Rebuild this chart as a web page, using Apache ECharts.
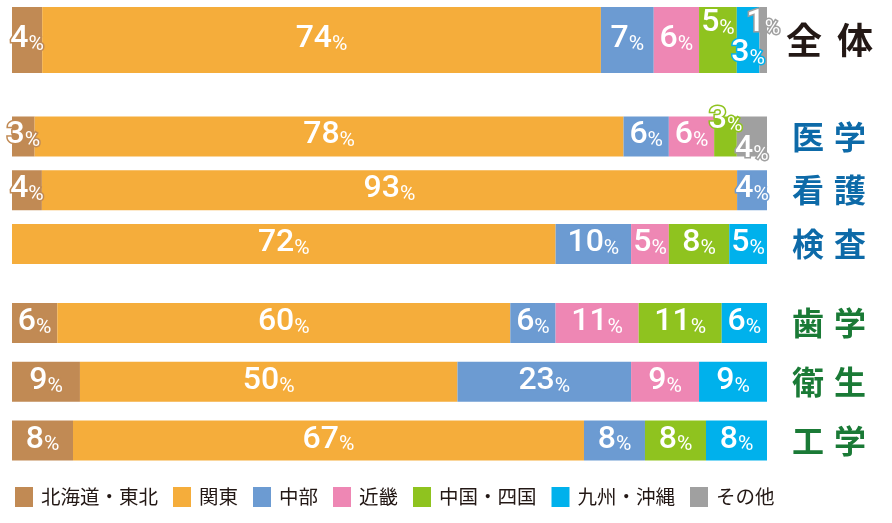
<!DOCTYPE html>
<html>
<head>
<meta charset="utf-8">
<script src="https://cdn.jsdelivr.net/npm/echarts@6/dist/echarts.min.js"></script>
<style>
html, body { margin: 0; padding: 0; background: #fff; }
#main { width: 892px; height: 523px; }
</style>
</head>
<body>
<div id="main"></div>
<script>
// regions (legend order)
var regions = ['北海道・東北', '関東', '中部', '近畿', '中国・四国', '九州・沖縄', 'その他'];
// rows, top to bottom
var rows = ['全体', '医学', '看護', '検査', '歯学', '衛生', '工学'];
// percent per region, one entry per row
var hokkaidoTohoku = [4, 3, 4, 0, 6, 9, 8];
var kanto          = [74, 78, 93, 72, 60, 50, 67];
var chubu          = [7, 6, 4, 10, 6, 23, 8];
var kinki          = [6, 6, 0, 5, 11, 9, 0];
var chugokuShikoku = [5, 3, 0, 8, 11, 0, 8];
var kyushuOkinawa  = [3, 0, 0, 5, 6, 9, 8];
var others         = [1, 4, 0, 0, 0, 0, 0];

var values = [hokkaidoTohoku, kanto, chubu, kinki, chugokuShikoku, kyushuOkinawa, others];
var colors = ['#c18a54', '#f5ad3b', '#6c9bd2', '#ee87b4', '#8fc31f', '#00b1ec', '#a0a0a0'];

// three blocks of rows
var groups = [
  { rows: [0], top: 7, height: 66, barWidth: 66, color: '#231815', size: 36, gap: 15, margin: 19 },
  { rows: [1, 2, 3], top: 109.6, height: 161.3, barWidth: 40, color: '#0d6aa8', size: 32, gap: 10, margin: 25 },
  { rows: [4, 5, 6], top: 293.6, height: 176.3, barWidth: 40, color: '#1a7a36', size: 32, gap: 10, margin: 25 }
];

// labels that sit above / below their thin segment  (row-region)
var labelShift = {
  '0-4': [0, -16],
  '0-6': [0, -16],
  '0-5': [0, 14],
  '1-4': [0, -15],
  '1-6': [0, 14]
};

var numFont = "Roboto, 'Liberation Sans', sans-serif";

function rowSum(i) {
  var s = 0;
  values.forEach(function (v) { s += v[i]; });
  return s;
}

var grids = [], xAxes = [], yAxes = [], series = [];
groups.forEach(function (g, gi) {
  grids.push({ left: 12, right: 125, top: g.top, height: g.height, outerBoundsMode: 'none' });
  xAxes.push({ type: 'value', gridIndex: gi, min: 0, max: 100, show: false });
  yAxes.push({
    type: 'category', gridIndex: gi, inverse: true, position: 'right',
    data: g.rows.map(function (i) { return rows[i]; }),
    axisLine: { show: false }, axisTick: { show: false }, splitLine: { show: false },
    axisLabel: {
      margin: g.margin,
      formatter: function (v) { return v.split('').map(function (c) { return '{c|' + c + '}'; }).join('{s|}'); },
      rich: {
        c: { fontSize: g.size, fontWeight: 'bold', color: g.color, fontFamily: "'Noto Sans CJK JP', sans-serif" },
        s: { width: g.gap }
      }
    }
  });
  regions.forEach(function (name, ri) {
    series.push({
      name: name,
      type: 'bar',
      stack: 'g' + gi,
      xAxisIndex: gi,
      yAxisIndex: gi,
      barWidth: g.barWidth,
      itemStyle: { color: colors[ri] },
      emphasis: { disabled: true },
      data: g.rows.map(function (i) {
        var raw = values[ri][i];
        return {
          value: raw * 100 / rowSum(i),
          raw: raw,
          label: { show: raw > 0, offset: labelShift[i + '-' + ri] || [0, 0] }
        };
      }),
      label: {
        position: 'inside',
        formatter: function (p) { return '{n|' + p.data.raw + '}{p|%}'; },
        rich: {
          n: { fontSize: 32, lineHeight: 30, fontWeight: 500, verticalAlign: 'bottom', color: '#fff', fontFamily: numFont, textBorderColor: colors[ri], textBorderWidth: 3 },
          p: { fontSize: 21, lineHeight: 24, fontWeight: 400, verticalAlign: 'bottom', color: '#fff', fontFamily: numFont, textBorderColor: colors[ri], textBorderWidth: 3 }
        }
      }
    });
  });
});

var myChart = echarts.init(document.getElementById('main'));
var option = {
  animation: false,
  legend: {
    data: regions,
    left: 10,
    top: 482,
    icon: 'rect',
    itemWidth: 18,
    itemHeight: 20,
    itemGap: 15,
    textStyle: { fontSize: 19.5, color: '#231815', fontFamily: "'Noto Sans CJK JP', sans-serif", padding: [0, 0, 0, 3] }
  },
  grid: grids,
  xAxis: xAxes,
  yAxis: yAxes,
  series: series
};
myChart.setOption(option);
</script>
</body>
</html>
